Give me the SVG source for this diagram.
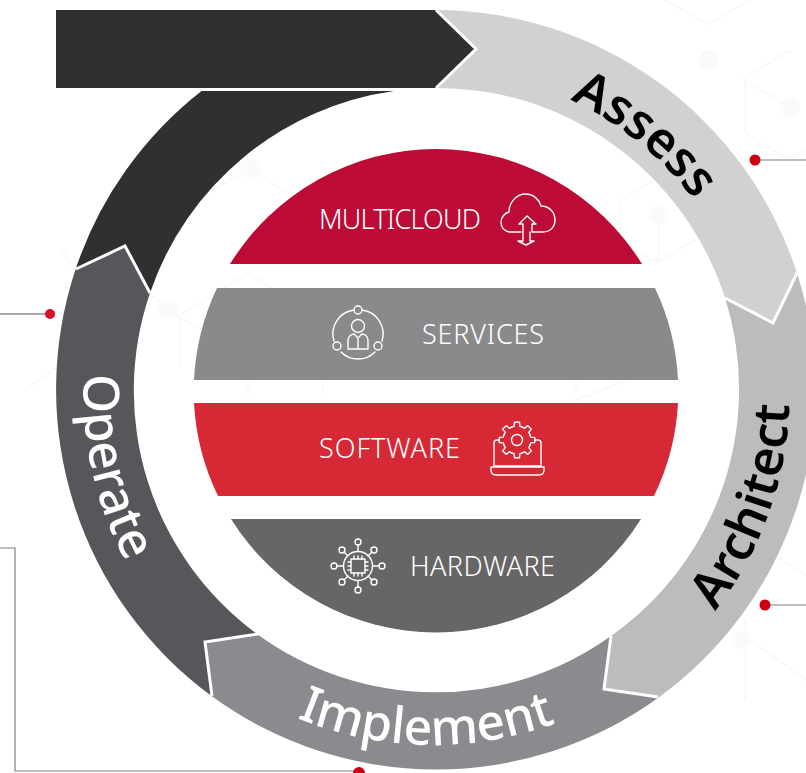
<svg xmlns="http://www.w3.org/2000/svg" xmlns:xlink="http://www.w3.org/1999/xlink" width="806" height="773" viewBox="0 0 806 773">
<style>
.deco{fill:none;stroke:#f9f9f9;stroke-width:2}
.decod{fill:#fafafa}
.notch{fill:none;stroke:#fff;stroke-width:3}
.ring{font-family:"Noto Sans","Open Sans",sans-serif;font-size:50px;font-weight:500}
.band{font-family:"Noto Sans","Open Sans",sans-serif;font-size:27px;font-weight:300;fill:#fff}
.ic{fill:none;stroke:#fff;stroke-width:1.4;stroke-linejoin:round;stroke-linecap:round}
.conn{fill:none;stroke:#808080;stroke-width:1.2}
.dot{fill:#cc0010}
</style>
<defs>
<path id="pAssess" d="M570 100A324 324 0 0 1 724 248"/>
<path id="pOperate" d="M84 374A353 353 0 0 0 143 590"/>
<path id="pImplement" d="M297 718A356 356 0 0 0 580 713"/>
<path id="pArchitect" d="M715 611A353 353 0 0 0 789 376"/>
<path id="tooth" d="M-5.36-12.93L-2.91-13.69L-2.5-17.82L2.5-17.82L2.91-13.69L5.36-12.93"/>
</defs>
<rect width="806" height="773" fill="#fff"/>
<g id="background">
<path class="deco" d="M665 0L708 24L750 0M790 50L745 78V133L790 160L806 150M741 78L790 107M620 200L658 178L700 200M620 200V245L658 262L695 240M658 215V262M250 168L205 195M250 168L290 195M150 293L168 310L205 332M180 315L248 273L320 318M180 315V365M248 375V395M322 375V395M100 315L62 248M25 390L60 365M576 400L640 375M576 375V395M750 540L806 575M750 640L806 680M745 620V700"/>
<circle class="decod" cx="709" cy="60" r="10"/><circle class="decod" cx="790" cy="107" r="10"/><circle class="decod" cx="658" cy="215" r="10"/><circle class="decod" cx="250" cy="168" r="10"/><circle class="decod" cx="168" cy="310" r="10"/><circle class="decod" cx="741" cy="640" r="9"/>
</g>
<g id="connectors">
<path class="conn" d="M755 160H806"/>
<path class="conn" d="M765 605H806"/>
<path class="conn" style="stroke:#555" d="M0 314H50"/>
<path class="conn" d="M0 548H15V771H359"/>
<circle class="dot" cx="755" cy="160" r="5.5"/>
<circle class="dot" cx="765" cy="605" r="5.5"/>
<circle cx="50" cy="314" r="5" fill="#d80f2c"/>
<circle class="dot" cx="359" cy="773" r="6"/>
</g>
<g id="node-operate-tail">
<path fill="#303032" d="M201.500 91A380 380 0 0 0 76 268L125 246L150 293A302 302 0 0 1 394 91Z"/>
</g>
<g id="node-operate">
<path fill="#55575b" d="M213 697A380 380 0 0 1 76 268L125 246L150 293A302 302 0 0 0 257 634L205 642Z"/>
<path class="notch" d="M76 269L125 246L150 293"/>
<text class="ring" fill="#fff"><textPath xlink:href="#pOperate" href="#pOperate">Operate</textPath></text>
</g>
<g id="node-implement">
<path fill="#8a8b8e" d="M658 698A380 380 0 0 1 213 697L205 642L257 634A302 302 0 0 0 611 636L604 689Z"/>
<path class="notch" d="M212 696L205 642L258 634"/>
<text class="ring" fill="#fff"><textPath xlink:href="#pImplement" href="#pImplement">Implement</textPath></text>
</g>
<g id="node-architect">
<path fill="#bcbcbc" d="M797 273A380 380 0 0 1 658 698L604 689L611 636A302 302 0 0 0 725 298L773 323Z"/>
<path class="notch" d="M658 697L604 689L611 636"/>
<text class="ring" fill="#000" style="font-weight:600;letter-spacing:.3px"><textPath xlink:href="#pArchitect" href="#pArchitect">Architect</textPath></text>
</g>
<g id="node-assess">
<path fill="#d1d1d0" d="M436 10A380 380 0 0 1 797 273L773 323L725 298A302 302 0 0 0 436 88L475 49Z"/>
<path class="notch" d="M797 273L773 323L725 298"/>
<text class="ring" fill="#000" style="font-weight:600"><textPath xlink:href="#pAssess" href="#pAssess">Assess</textPath></text>
</g>
<g id="node-start">
<path fill="#303032" d="M56 10H436L475 49L436 88H56Z"/>
<path class="notch" d="M436 10L476 49L436 88"/>
</g>
<g id="node-multicloud">
<path fill="#bc0b35" d="M230 264A242 242 0 0 1 642 264Z"/>
<text class="band" x="319" y="229" textLength="162">MULTICLOUD</text>
<path class="ic" d="M521 232H511C504 232 501 227 501 222C501 217 505 213 509 212C509 203 516 194 526 194C533 194 539 199 541 206C549 206 555 212 555 220C555 227 550 232 543 232H532V224H536L527 216L519 224H523V241H518L526 245L534 241H530V232"/>
</g>
<g id="node-services">
<path fill="#8a8a8c" d="M217 288H655A242 242 0 0 1 678 380H194A242 242 0 0 1 217 288Z"/>
<text class="band" x="422" y="344" textLength="122">SERVICES</text>
<g class="ic">
<path d="M354 310A24 24 0 0 0 334 341M341 352A24 24 0 0 0 375 352M382 341A24 24 0 0 0 362 310"/>
<circle cx="358" cy="310" r="4"/><circle cx="337" cy="346" r="4"/><circle cx="378" cy="346" r="4"/>
<circle cx="358" cy="326" r="6.500"/>
<path d="M348 349V340C348 336 352 334 354 334L358 338L362 334C364 334 368 336 368 340V349ZM358 338V349"/>
</g>
</g>
<g id="node-software">
<path fill="#d72836" d="M194 403H678A242 242 0 0 1 654 496H218A242 242 0 0 1 194 403Z"/>
<text class="band" x="319" y="458" textLength="141">SOFTWARE</text>
<g class="ic">
<circle cx="517" cy="440" r="5.500"/>
<g transform="translate(517 440)">
<use href="#tooth"/><use href="#tooth" transform="rotate(45)"/><use href="#tooth" transform="rotate(90)"/><use href="#tooth" transform="rotate(135)"/><use href="#tooth" transform="rotate(180)"/><use href="#tooth" transform="rotate(225)"/><use href="#tooth" transform="rotate(270)"/><use href="#tooth" transform="rotate(315)"/>
</g>
<path d="M499 440H497C495 440 494 441 494 443V466M535 440H538C540 440 541 441 541 443V466M494 466H541M491 467H544V470C544 473 542 475 539 475H496C493 475 491 473 491 470Z"/>
</g>
</g>
<g id="node-hardware">
<path fill="#666" d="M231 519H641A242 242 0 0 1 231 519Z"/>
<text class="band" x="410" y="576" textLength="145">HARDWARE</text>
<g class="ic">
<circle cx="358" cy="566" r="14.500"/>
<rect x="351" y="559" width="14" height="14"/>
<path d="M348 562H351M348 566H351M348 570H351M365 562H368M365 566H368M365 570H368M354 556V559M358 556V559M362 556V559M354 573V576M358 573V576M362 573V576"/>
<path d="M358 551.500V545M358 580.500V587M343.500 566H337M372.500 566H379M348 556L344 552M368 556L372 552M348 576L344 580M368 576L372 580"/>
<circle cx="358" cy="542" r="3"/><circle cx="358" cy="590" r="3"/><circle cx="334" cy="566" r="3"/><circle cx="382" cy="566" r="3"/><circle cx="342" cy="550" r="3"/><circle cx="374" cy="550" r="3"/><circle cx="342" cy="582" r="3"/><circle cx="374" cy="582" r="3"/>
</g>
</g>
</svg>
